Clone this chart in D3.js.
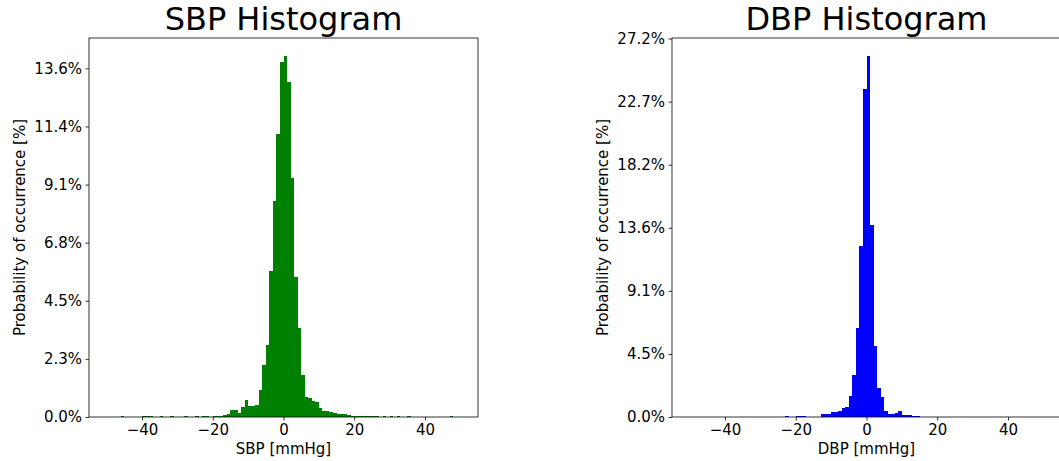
<!DOCTYPE html>
<html>
<head>
<meta charset="utf-8">
<script src="https://cdn.jsdelivr.net/npm/d3@7"></script>
<style>
  body { margin: 0; background: #fff; }
  svg { display: block; font-family: "DejaVu Sans", sans-serif; }
</style>
</head>
<body>
<svg id="chart" width="1059" height="461"></svg>
<script>
// histogram bins: 1 mmHg wide, from -50 to 50
const binEdges = d3.range(-50, 51);

// probability of occurrence [%] per bin, bins -50..49
const sbpValues = [
  0, 0, 0, 0, 0.02, 0, 0, 0, 0, 0,                                // -50..-41
  0.02, 0.02, 0.02, 0, 0, 0.02, 0, 0, 0.02, 0,                    // -40..-31
  0, 0, 0.02, 0, 0, 0.02, 0, 0.02, 0.02, 0,                       // -30..-21
  0.03, 0.05, 0.05, 0.08, 0.10, 0.29, 0.26, 0.16, 0.38, 0.66,     // -20..-11
  0.44, 0.42, 0.47, 1.07, 2.03, 2.80, 5.70, 8.42, 11.07, 13.86,   // -10..-1
  14.10, 13.08, 9.35, 5.46, 3.49, 1.63, 0.77, 0.74, 0.62, 0.60,   // 0..9
  0.35, 0.22, 0.24, 0.18, 0.15, 0.12, 0.10, 0.10, 0.06, 0.05,     // 10..19
  0.03, 0.03, 0.02, 0.02, 0.05, 0.05, 0.02, 0, 0.02, 0,           // 20..29
  0.02, 0, 0.03, 0, 0, 0.02, 0, 0, 0, 0,                          // 30..39
  0, 0, 0, 0, 0, 0, 0, 0.02, 0, 0                                 // 40..49
];

const dbpValues = [
  0, 0, 0, 0, 0, 0, 0, 0, 0, 0,                                   // -50..-41
  0, 0, 0, 0, 0, 0, 0, 0, 0, 0,                                   // -40..-31
  0, 0, 0, 0, 0, 0, 0, 0.08, 0, 0,                                // -30..-21
  0.06, 0.06, 0.06, 0, 0, 0, 0.02, 0.20, 0.18, 0.22,              // -20..-11
  0.37, 0.34, 0.44, 0.62, 0.70, 1.51, 3.00, 6.42, 12.29, 23.58,   // -10..-1
  25.98, 13.80, 5.10, 2.06, 1.41, 0.45, 0.25, 0.25, 0.30, 0.45,   // 0..9
  0.16, 0.16, 0.16, 0.09, 0.08, 0.02, 0, 0, 0, 0,                 // 10..19
  0, 0, 0, 0, 0, 0, 0, 0, 0, 0,                                   // 20..29
  0, 0, 0, 0, 0, 0, 0, 0, 0, 0,                                   // 30..39
  0, 0, 0, 0, 0, 0, 0, 0, 0, 0                                    // 40..49
];

const xTicks = [-40, -20, 0, 20, 40];
const sbpYTicks = [0, 2.27, 4.54, 6.81, 9.08, 11.35, 13.62];
const sbpYLabels = ["0.0%", "2.3%", "4.5%", "6.8%", "9.1%", "11.4%", "13.6%"];
const dbpYTicks = [0, 4.54, 9.08, 13.62, 18.16, 22.7, 27.24];
const dbpYLabels = ["0.0%", "4.5%", "9.1%", "13.6%", "18.2%", "22.7%", "27.2%"];

const svg = d3.select("#chart");
const plotTop = 38, plotBottom = 417;

function drawPanel(opt) {
  const g = svg.append("g");
  const x = d3.scaleLinear().domain([-55, 55]).range([opt.left, opt.right]);
  const yMax = d3.max(opt.values) * 1.05;
  const y = d3.scaleLinear().domain([0, yMax]).range([plotBottom, plotTop]);

  const bins = opt.values.map((v, i) => ({x0: binEdges[i], x1: binEdges[i + 1], v: v}))
    .filter(d => d.v > 0);

  g.selectAll("rect.bar")
    .data(bins)
    .enter()
    .append("rect")
    .attr("class", "bar")
    .attr("x", d => x(d.x0))
    .attr("width", d => x(d.x1) - x(d.x0))
    .attr("y", d => y(d.v))
    .attr("height", d => y(0) - y(d.v))
    .attr("shape-rendering", "crispEdges")
    .attr("fill", opt.color);

  const xAxis = d3.axisBottom(x).tickValues(xTicks).tickSize(3.5).tickPadding(3.5)
    .tickFormat(d => d < 0 ? "\u2212" + Math.abs(d) : d);
  const ax = g.append("g").attr("transform", `translate(0,${plotBottom})`).call(xAxis);

  const yAxis = d3.axisLeft(y).tickValues(opt.yTicks).tickSize(3.5).tickPadding(3.5)
    .tickFormat((d, i) => opt.yLabels[i]);
  const ay = g.append("g").attr("transform", `translate(${opt.left},0)`).call(yAxis);

  [ax, ay].forEach(a => {
    a.select(".domain").remove();
    a.selectAll("line").attr("stroke", "#000").attr("stroke-width", 0.8);
    a.selectAll("text").attr("fill", "#000").style("font-size", "15px")
      .style("font-family", "DejaVu Sans");
  });

  // frame
  g.append("rect")
    .attr("x", opt.left).attr("y", plotTop)
    .attr("width", opt.right - opt.left).attr("height", plotBottom - plotTop)
    .attr("fill", "none").attr("stroke", "#000").attr("stroke-width", 0.8);

  const cx = (opt.left + opt.right) / 2;
  g.append("text")
    .attr("x", cx).attr("y", 30)
    .attr("text-anchor", "middle")
    .style("font-size", "32px")
    .text(opt.title);

  g.append("text")
    .attr("x", cx).attr("y", 454)
    .attr("text-anchor", "middle")
    .style("font-size", "15px")
    .text(opt.xLabel);

  g.append("text")
    .attr("transform", `translate(${opt.yLabelX},${(plotTop + plotBottom) / 2}) rotate(-90)`)
    .attr("text-anchor", "middle")
    .style("font-size", "15px")
    .text("Probability of occurrence [%]");
}

drawPanel({
  left: 89, right: 478, values: sbpValues, color: "#008000",
  yTicks: sbpYTicks, yLabels: sbpYLabels,
  title: "SBP Histogram", xLabel: "SBP [mmHg]", yLabelX: 25
});

drawPanel({
  left: 672, right: 1061, values: dbpValues, color: "#0000ff",
  yTicks: dbpYTicks, yLabels: dbpYLabels,
  title: "DBP Histogram", xLabel: "DBP [mmHg]", yLabelX: 608
});
</script>
</body>
</html>
